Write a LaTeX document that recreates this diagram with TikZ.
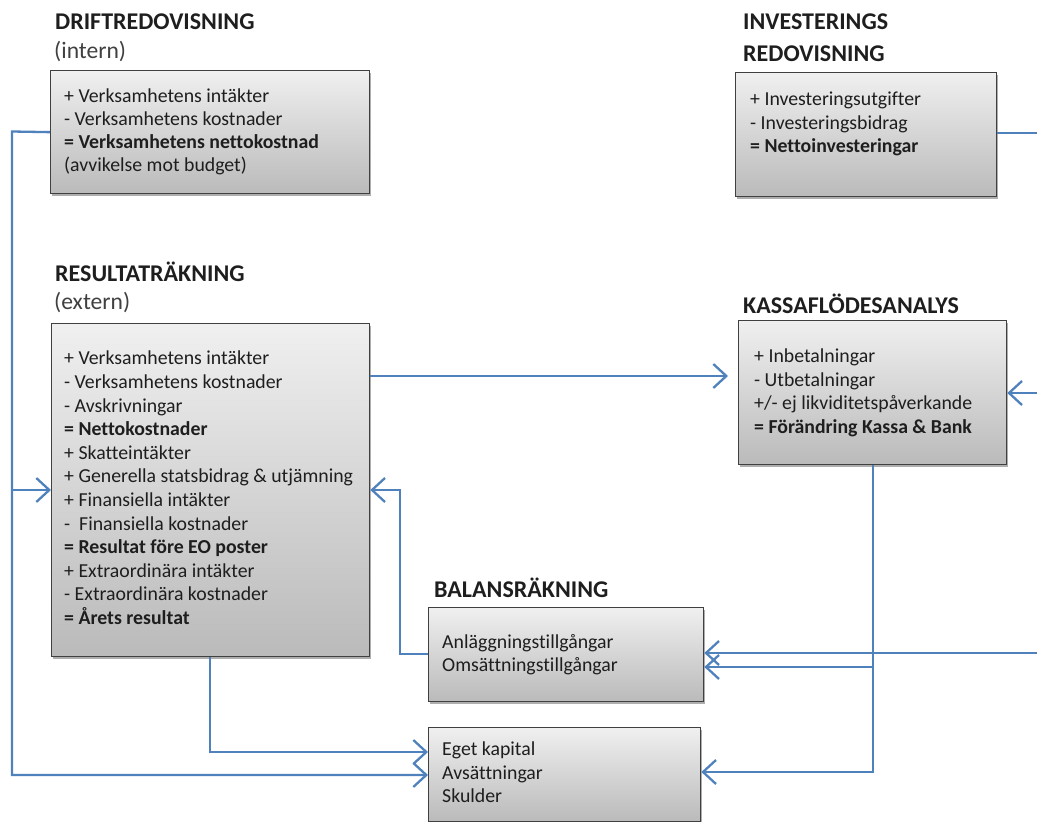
\documentclass[tikz,border=0pt]{standalone}
\usepackage{fontspec}
\setmainfont{Carlito}[Ligatures=NoCommon]
\usetikzlibrary{arrows.meta,shadows}
\definecolor{lineblue}{HTML}{4F81BD}
\definecolor{txtcol}{HTML}{1E1E1E}
\begin{document}
\begin{tikzpicture}[x=1pt,y=-1pt,
  box/.style={draw=black!75, line width=1.3pt, top color=black!6, bottom color=black!27,
    anchor=north west, inner sep=0pt,
    drop shadow={shadow xshift=1.5pt, shadow yshift=-2.5pt, opacity=0.45, fill=black!70}},
  txt/.style={anchor=north west, inner sep=0pt, align=left, text=txtcol,
    font=\fontsize{19.8}{23.5}\selectfont},
  ttl/.style={anchor=west, inner sep=0pt, text=txtcol, font=\fontsize{24}{28}\selectfont\bfseries},
  sub/.style={anchor=west, inner sep=0pt, text=black!75, font=\fontsize{23.6}{28}\selectfont},
  conn/.style={draw=lineblue, line width=2.3pt, -{Straight Barb[length=13pt,width=24pt,line width=2.3pt]}}
]
\useasboundingbox (0,0) rectangle (1037,822);

% titles
\node[ttl] (t1) at (55,22) {DRIFTREDOVISNING};
\node[sub] (t1s) at (54,52) {(intern)};
\node[ttl] (t2) at (743,22) {INVESTERINGS};
\node[ttl] (t2b) at (743,54) {REDOVISNING};
\node[ttl] (t3) at (55,272) {RESULTATRÄKNING};
\node[sub] (t3s) at (54,303) {(extern)};
\node[ttl] (t4) at (743,304) {KASSAFLÖDESANALYS};
\node[ttl] (t5) at (434,588) {BALANSRÄKNING};

% boxes
\node[box, minimum width=319pt, minimum height=123pt] (drift) at (50,70) {};
\node[box, minimum width=261pt, minimum height=124pt] (inv) at (735,72) {};
\node[box, minimum width=318pt, minimum height=333pt] (res) at (51,323) {};
\node[box, minimum width=268pt, minimum height=144pt] (kassa) at (738,320) {};
\node[box, minimum width=275pt, minimum height=94pt] (bal) at (428,607) {};
\node[box, minimum width=272pt, minimum height=94pt] (eget) at (428,727) {};

% box texts
\node[txt, font=\fontsize{19.8}{22.8}\selectfont] (driftt) at (64,89) {+ Verksamhetens intäkter\\- Verksamhetens kostnader\\\textbf{= Verksamhetens nettokostnad}\\(avvikelse mot budget)};
\node[txt] (invt) at (750,92) {+ Investeringsutgifter\\- Investeringsbidrag\\\textbf{= Nettoinvesteringar}};
\node[txt, font=\fontsize{19.8}{23.6}\selectfont] (rest) at (64,351) {+ Verksamhetens intäkter\\- Verksamhetens kostnader\\- Avskrivningar\\\textbf{= Nettokostnader}\\+ Skatteintäkter\\+ Generella statsbidrag \& utjämning\\+ Finansiella intäkter\\-\ \ Finansiella kostnader\\\textbf{= Resultat före EO poster}\\+ Extraordinära intäkter\\- Extraordinära kostnader\\\textbf{= Årets resultat}};
\node[txt] (kassat) at (754,349) {+ Inbetalningar\\- Utbetalningar\\+/- ej likviditetspåverkande\\\textbf{= Förändring Kassa \& Bank}};
\node[txt] (balt) at (442,634) {Anläggningstillgångar\\Omsättningstillgångar};
\node[txt] (egett) at (442,742) {Eget kapital\\Avsättningar\\Skulder};

% connector points
\coordinate (L1) at (12,131.5);
\coordinate (L2) at (12,490);
\coordinate (L3) at (12,775);
\coordinate (R1) at (210,752);
\coordinate (K1) at (380,376);
\coordinate (B1) at (400,654);
\coordinate (B2) at (400,490);
\coordinate (I1) at (1050,133);
\coordinate (I2) at (1050,393);
\coordinate (I3) at (1050,653);
\coordinate (C1) at (873,667);
\coordinate (C2) at (873,772);

% connectors
\draw[conn] (drift.west) -- (L1) -- (L3) -- (L3 -| eget.west);
\draw[conn] (L2) -- (L2 -| res.west);
\draw[conn] (R1 |- res.south) -- (R1) -- (R1 -| eget.west);
\draw[conn, shorten >=10pt] (K1 -| res.east) -- (K1 -| kassa.west);
\draw[conn] (B1 -| bal.west) -- (B1) -- (B2) -- (B2 -| res.east);
\draw[conn] (I1 -| inv.east) -- (I1) -- (I3) -- (I3 -| bal.east);
\draw[conn] (I2) -- (I2 -| kassa.east);
\draw[conn] (C2 |- kassa.south) -- (C2) -- (C2 -| eget.east);
\draw[conn] (C1) -- (C1 -| bal.east);
\end{tikzpicture}
\end{document}
